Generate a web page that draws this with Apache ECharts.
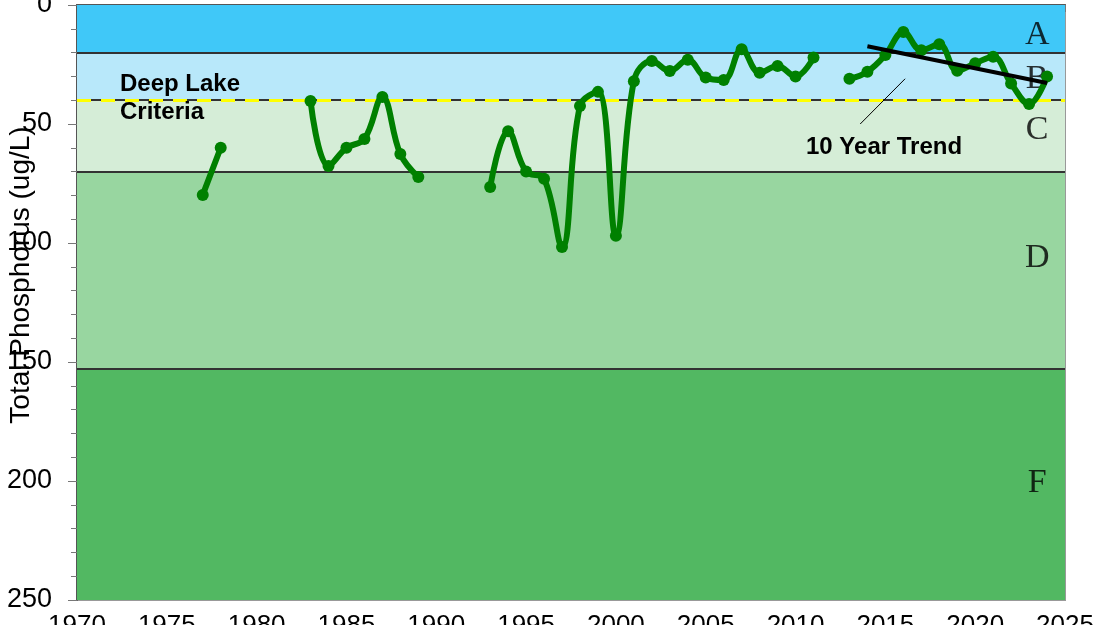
<!DOCTYPE html>
<html><head><meta charset="utf-8">
<script src="https://cdn.jsdelivr.net/npm/echarts@6/dist/echarts.min.js"></script>
<style>html,body{margin:0;padding:0;background:#fff}#c{width:1110px;height:625px}</style>
</head><body><div id="c"></div>
<script>
const years = [1977,1978,1979,1980,1981,1982,1983,1984,1985,1986,1987,1988,1989,1990,1991,1992,1993,1994,1995,1996,1997,1998,1999,2000,2001,2002,2003,2004,2005,2006,2007,2008,2009,2010,2011,2012,2013,2014,2015,2016,2017,2018,2019,2020,2021,2022,2023,2024];
const phosphorus = [79.8,60,null,null,null,null,40.3,67.6,60,56.3,38.7,62.6,72.3,null,null,null,76.5,53,70,73,101.7,42.4,36.5,97,32,23.5,27.7,23,30.5,31.5,18.6,28.5,25.6,30,22.1,null,31,28,21,11.3,19,16.5,27.6,24.5,21.7,33,41.6,30];
const trendYears = [2014, 2024];
const trendValues = [17.3, 32.8];
const bandNames = ['A','B','C','D','F'];
const bandBounds = [0,20,40,70,153,250];
const bandColors = ['#40C8F8','#B8E8FA','#D5EDD7','#98D6A0','#52B862'];
const bandLabelValues = [12.5,31,52.5,106.5,201];
const criteria = 40;
const yTicks = [0,50,100,150,200,250];
const xTicks = [1970,1975,1980,1985,1990,1995,2000,2005,2010,2015,2020,2025];

const chart = echarts.init(document.getElementById('c'));
const bandAreas = bandNames.map((n,i)=>[{yAxis:bandBounds[i],itemStyle:{color:bandColors[i]}},{yAxis:bandBounds[i+1]}]);
const boundaryLines = bandBounds.slice(1,5).map(b=>({yAxis:b}));

chart.setOption({
  animation:false,
  grid:{left:77,top:5,right:45,bottom:25,show:true,borderColor:'#999',borderWidth:2,containLabel:false,outerBoundsMode:'none'},
  xAxis:{type:'value',min:1970,max:2025,interval:5,
    axisLine:{show:true,lineStyle:{color:'#555',width:2}},
    axisTick:{show:true,length:7,lineStyle:{color:'#777'}},
    minorTick:{show:true,splitNumber:5,length:7,lineStyle:{color:'#777'}},
    splitLine:{show:false},
    axisLabel:{fontFamily:'Liberation Sans',fontSize:26,color:'#000',margin:13,formatter:v=>String(v)}},
  yAxis:{type:'value',inverse:true,min:0,max:250,interval:50,
    axisLine:{show:true,lineStyle:{color:'#555',width:2}},
    axisTick:{show:true,length:9,lineStyle:{color:'#777'}},
    minorTick:{show:true,splitNumber:5,length:6,lineStyle:{color:'#777'}},
    splitLine:{show:false},
    axisLabel:{fontFamily:'Liberation Sans',fontSize:27,color:'#000',margin:25,formatter:v=>String(v)}},
  series:[
    {type:'line',data:[],silent:true,
      markArea:{silent:true,data:bandAreas},
      markLine:{silent:true,symbol:'none',label:{show:false},lineStyle:{color:'#333',type:'solid',width:2},data:boundaryLines}},
    {type:'line',data:[],silent:true,z:3,
      markLine:{silent:true,symbol:'none',label:{show:false},lineStyle:{color:'#FFFF00',type:[14,10],width:3},data:[{yAxis:criteria}]}},
    {type:'scatter',symbolSize:0,silent:true,
      data:bandNames.map((n,i)=>[2023.45,bandLabelValues[i],n]),
      label:{show:true,position:'inside',formatter:p=>p.data[2],fontFamily:'Liberation Serif',fontSize:34,color:'#000'}},
    {type:'line',smooth:0.4,connectNulls:false,z:5,
      data:years.map((y,i)=>[y,phosphorus[i]]),
      symbol:'circle',symbolSize:12,
      lineStyle:{color:'#008000',width:6},itemStyle:{color:'#008000'}},
    {type:'line',z:6,symbol:'none',
      data:trendYears.map((y,i)=>[y,trendValues[i]]),
      lineStyle:{color:'#000',width:4}},
    {type:'line',z:6,symbol:'none',
      data:[[2013.6,50],[2016.1,31]],
      lineStyle:{color:'#000',width:1}}
  ],
  graphic:[
    {type:'text',left:120,top:72,style:{text:'Deep Lake',font:'bold 24px "Liberation Sans"',fill:'#000'},z:10},
    {type:'text',left:120,top:100,style:{text:'Criteria',font:'bold 24px "Liberation Sans"',fill:'#000'},z:10},
    {type:'text',left:806,top:135,style:{text:'10 Year Trend',font:'bold 24px "Liberation Sans"',fill:'#000'},z:10},
    {type:'text',x:21,y:275,rotation:Math.PI/2,style:{text:'Total Phosphorus (ug/L)',font:'28px "Liberation Sans"',fill:'#000',align:'center',verticalAlign:'middle'},z:10}
  ]
});
</script></body></html>
